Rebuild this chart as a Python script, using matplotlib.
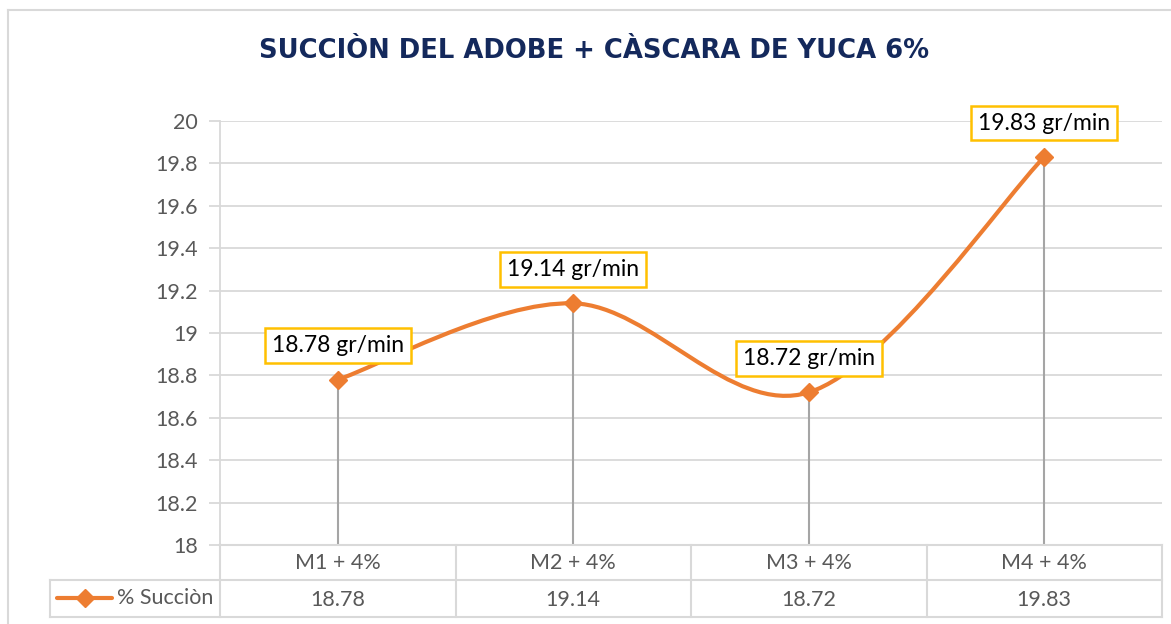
import matplotlib
matplotlib.use("Agg")
import matplotlib.pyplot as plt
from matplotlib.path import Path
from matplotlib.patches import PathPatch
from matplotlib.lines import Line2D

# data
categories = ["M1 + 4%", "M2 + 4%", "M3 + 4%", "M4 + 4%"]
values = [18.78, 19.14, 18.72, 19.83]
series_name = "% Succiòn"
title = "SUCCIÒN DEL ADOBE + CÀSCARA DE YUCA 6%"
y_ticks = [18, 18.2, 18.4, 18.6, 18.8, 19, 19.2, 19.4, 19.6, 19.8, 20]

W, H = 1171, 624
ORANGE = "#ED7D31"
GRID = "#D9D9D9"
TXT = "#595959"
plt.rcParams["font.family"] = ["Lato", "DejaVu Sans"]

fig = plt.figure(figsize=(W / 100, H / 100), dpi=100)


def fx(px):
    return px / W


def fy(py):
    return 1 - py / H


# chart border (left and top only visible)
fig.add_artist(Line2D([fx(8), fx(8)], [fy(10), 0], color=GRID, lw=1.5))
fig.add_artist(Line2D([fx(8), 1], [fy(10), fy(10)], color=GRID, lw=1.5))

fig.text(fx(594), fy(51), title, ha="center", va="center", fontsize=18.6,
         fontweight="bold", color="#14295C", family="DejaVu Sans")

# main plot area
ax = fig.add_axes([fx(220), fy(545), fx(1162) - fx(220), fy(121) - fy(545)])
n = len(categories)
xs = [i + 0.5 for i in range(n)]
ax.set_xlim(0, n)
ax.set_ylim(18, 20)
ax.set_yticks(y_ticks)
ax.set_yticklabels([f"{t:g}" for t in y_ticks], fontsize=15.5, color=TXT)
ax.tick_params(axis="y", length=8, color=GRID, width=1.3, pad=8)
ax.set_xticks([])
for s in ["top", "right", "bottom"]:
    ax.spines[s].set_visible(False)
ax.spines["left"].set_color(GRID)
ax.spines["left"].set_linewidth(1.3)
ax.grid(axis="y", color=GRID, lw=1.3)
ax.set_axisbelow(True)

# drop lines
ax.vlines(xs, 18, values, color="#A5A5A5", lw=1.5, zorder=2)

# smoothed line (Bezier through the points, Excel-style)
pts = list(zip(xs, values))
verts = [pts[0]]
codes = [Path.MOVETO]
for i in range(n - 1):
    p0 = pts[i - 1] if i > 0 else pts[i]
    p1 = pts[i]
    p2 = pts[i + 1]
    p3 = pts[i + 2] if i + 2 < n else pts[i + 1]
    c1 = (p1[0] + (p2[0] - p0[0]) / 6, p1[1] + (p2[1] - p0[1]) / 6)
    c2 = (p2[0] - (p3[0] - p1[0]) / 6, p2[1] - (p3[1] - p1[1]) / 6)
    verts += [c1, c2, p2]
    codes += [Path.CURVE4] * 3
ax.add_patch(PathPatch(Path(verts, codes), fc="none", ec=ORANGE, lw=3,
                       zorder=3, capstyle="round"))
ax.plot(xs, values, ls="none", marker="D", ms=9, color=ORANGE, zorder=4)

for x, v in zip(xs, values):
    ax.annotate(f"{v:.2f} gr/min", (x, v), xytext=(0, 34),
                textcoords="offset pixels", ha="center", va="center",
                fontsize=16.5, color="black", zorder=5,
                bbox=dict(boxstyle="square,pad=0.3", fc="white",
                          ec="#FFC000", lw=1.8))

# data table
tab = fig.add_axes([fx(50), fy(617), fx(1162) - fx(50), fy(545) - fy(617)])
leg_w = 170 / 235.5
tab.set_xlim(-leg_w, n)
tab.set_ylim(617, 545)
tab.axis("off")
lk = dict(color=GRID, lw=1.5, clip_on=False)
tab.plot([0, n], [545, 545], **lk)
tab.plot([-leg_w, n], [580, 580], **lk)
tab.plot([-leg_w, n], [617, 617], **lk)
tab.plot([-leg_w, -leg_w], [580, 617], **lk)
for i in range(n + 1):
    tab.plot([i, i], [545, 617], **lk)
for i, (c, v) in enumerate(zip(categories, values)):
    tab.text(i + 0.5, 563, c, ha="center", va="center", fontsize=15.5,
             color=TXT)
    tab.text(i + 0.5, 600, f"{v:.2f}", ha="center", va="center",
             fontsize=15.5, color=TXT)
lx0, lx1 = (57 - 220) / 235.5, (112 - 220) / 235.5
tab.plot([lx0, lx1], [598, 598], color=ORANGE, lw=3, solid_capstyle="round",
         clip_on=False)
tab.plot([(lx0 + lx1) / 2], [598], marker="D", ms=9, color=ORANGE,
         clip_on=False)
tab.text(-7 / 235.5, 598, series_name, ha="right", va="center",
         fontsize=15.5, color=TXT)

fig.savefig("out.png", dpi=100)
